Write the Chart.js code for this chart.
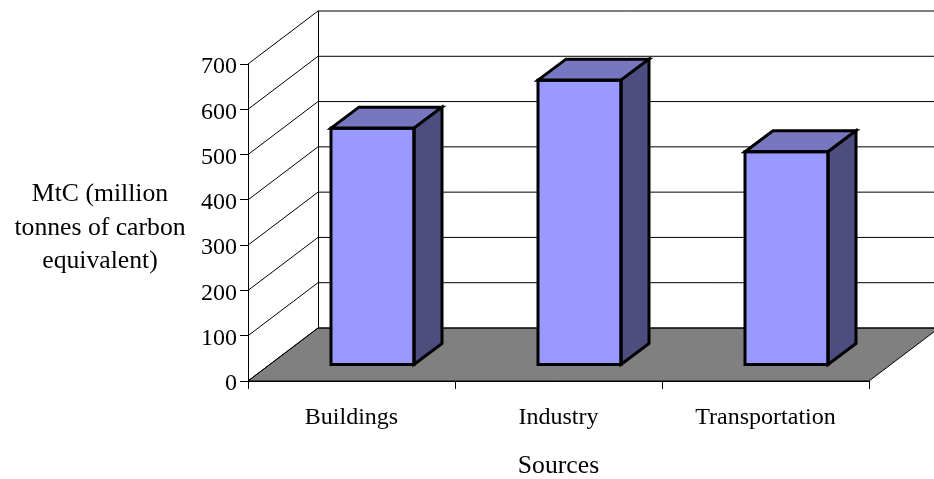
<!DOCTYPE html>
<html>
<head>
<meta charset="utf-8">
<script src="https://cdn.jsdelivr.net/npm/chart.js@4"></script>
<style>
    html, body { margin: 0; padding: 0; background: #fff; }
    canvas { display: block; }
</style>
</head>
<body>
<canvas id="myChart" width="934" height="479"></canvas>
<script>
const categories = ['Buildings', 'Industry', 'Transportation'];
const emissions = [523, 629, 471];
const yTitleLines = ['MtC (million', 'tonnes of carbon', 'equivalent)'];
const xTitle = 'Sources';

const FONT = '"Liberation Serif", "Times New Roman", serif';
const FONT_SIZE = 24;
const TITLE_SIZE = 25.7;

// depth of the fake 3d box, and where the bars sit inside it
const DEPTH_X = 70, DEPTH_Y = -53;
const BAR_SHIFT_X = 21, BAR_SHIFT_Y = -16;
const BAR_DEPTH_X = 28, BAR_DEPTH_Y = -21;

function poly(ctx, pts) {
    ctx.beginPath();
    pts.forEach((p, i) => i ? ctx.lineTo(p[0], p[1]) : ctx.moveTo(p[0], p[1]));
    ctx.closePath();
}

const box3d = {
    id: 'box3d',
    beforeDraw(chart) {
        const ctx = chart.ctx, a = chart.chartArea, y = chart.scales.y;
        ctx.save();
        ctx.strokeStyle = '#000';
        ctx.lineWidth = 1;

        // floor
        poly(ctx, [[a.left, a.bottom], [a.left + DEPTH_X, a.bottom + DEPTH_Y],
            [a.right + DEPTH_X, a.bottom + DEPTH_Y], [a.right, a.bottom]]);
        ctx.fillStyle = '#808080';
        ctx.fill();
        ctx.stroke();

        // grid lines, side wall then back wall
        y.ticks.forEach(t => {
            const py = y.getPixelForValue(t.value);
            ctx.beginPath();
            ctx.moveTo(a.left, py);
            ctx.lineTo(a.left + DEPTH_X, py + DEPTH_Y);
            ctx.lineTo(a.right + DEPTH_X, py + DEPTH_Y);
            ctx.stroke();
        });

        // back wall edge
        ctx.beginPath();
        ctx.moveTo(a.left + DEPTH_X + 0.5, a.top + DEPTH_Y);
        ctx.lineTo(a.left + DEPTH_X + 0.5, a.bottom + DEPTH_Y);
        ctx.stroke();

        // y axis title, three centred lines so not the rotated scale title
        ctx.fillStyle = '#000';
        ctx.font = TITLE_SIZE + 'px ' + FONT;
        ctx.textAlign = 'center';
        ctx.textBaseline = 'alphabetic';
        yTitleLines.forEach((line, i) => ctx.fillText(line, 100, 201 + i * 33.5));
        ctx.restore();
    },
    beforeDatasetDraw(chart) {
        chart.ctx.save();
        chart.ctx.translate(BAR_SHIFT_X, BAR_SHIFT_Y);
    },
    afterDatasetDraw(chart, args) {
        const ctx = chart.ctx;
        ctx.restore();
        ctx.save();
        ctx.strokeStyle = '#000';
        ctx.lineWidth = 3;
        ctx.lineJoin = 'miter';
        args.meta.data.forEach(bar => {
            const l = bar.x - bar.width / 2 + BAR_SHIFT_X;
            const r = bar.x + bar.width / 2 + BAR_SHIFT_X;
            const t = bar.y + BAR_SHIFT_Y;
            const b = bar.base + BAR_SHIFT_Y;

            poly(ctx, [[l, t], [l + BAR_DEPTH_X, t + BAR_DEPTH_Y], [r + BAR_DEPTH_X, t + BAR_DEPTH_Y], [r, t]]);
            ctx.fillStyle = '#7777bf';
            ctx.fill();
            ctx.stroke();

            poly(ctx, [[r, t], [r + BAR_DEPTH_X, t + BAR_DEPTH_Y], [r + BAR_DEPTH_X, b + BAR_DEPTH_Y], [r, b]]);
            ctx.fillStyle = '#4d4d80';
            ctx.fill();
            ctx.stroke();

            ctx.strokeRect(l, t, r - l, b - t);
        });
        ctx.restore();
    }
};

new Chart(document.getElementById('myChart'), {
    type: 'bar',
    plugins: [box3d],
    data: {
        labels: categories,
        datasets: [{
            data: emissions,
            backgroundColor: '#9999ff',
            borderWidth: 0,
            barPercentage: 0.401,
            categoryPercentage: 1,
            clip: false
        }]
    },
    options: {
        responsive: false,
        animation: false,
        events: [],
        layout: { padding: { left: 200, top: 64, right: 65, bottom: 0 } },
        plugins: { legend: { display: false }, tooltip: { enabled: false } },
        scales: {
            x: {
                afterFit: s => { s.height = 98; },
                grid: { drawOnChartArea: false, color: '#000', tickLength: 8, offset: true },
                border: { color: '#000' },
                ticks: { color: '#000', padding: 14, maxRotation: 0, font: { family: FONT, size: FONT_SIZE } },
                title: { display: true, text: xTitle, color: '#000', padding: { top: 0, bottom: -3 }, font: { family: FONT, size: TITLE_SIZE } }
            },
            y: {
                min: 0,
                max: 700,
                afterFit: s => { s.width = 48; },
                grid: { drawOnChartArea: false, color: '#000', tickLength: 8 },
                border: { color: '#000' },
                ticks: { stepSize: 100, color: '#000', padding: 3, labelOffset: 3, font: { family: FONT, size: FONT_SIZE } }
            }
        }
    }
});
</script>
</body>
</html>
